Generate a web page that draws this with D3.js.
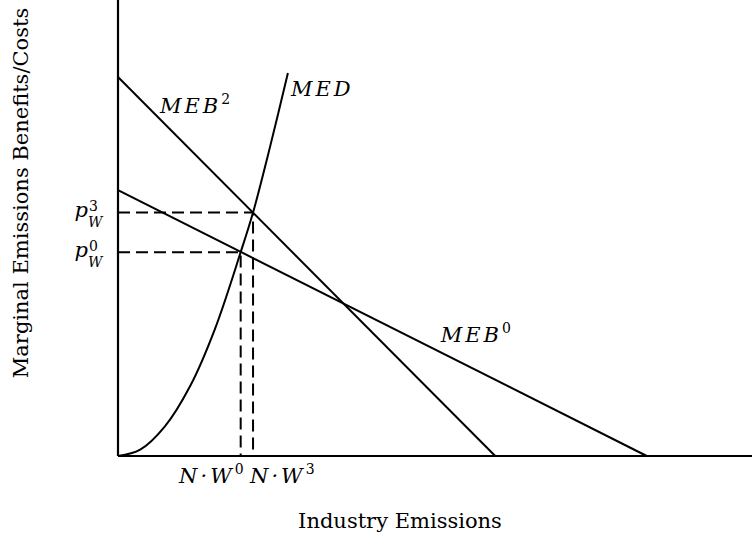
<!DOCTYPE html>
<html>
<head>
<meta charset="utf-8">
<script src="https://cdn.jsdelivr.net/npm/d3@7"></script>
<style>
  body { margin: 0; background: #fff; }
  svg text { font-family: "DejaVu Serif", serif; fill: #000; }
  .math { font-style: italic; }
</style>
</head>
<body>
<svg id="chart"></svg>
<script>
// demand / benefit lines (x = emissions, y = marginal value)
const meb2 = [[0, 8.31], [5.95, 0]]
const meb0 = [[0, 5.83], [8.34, 0]]
// marginal damage curve
const med = [
  [0, 0], [0.35, 0.14], [0.74, 0.65], [1.14, 1.54], [1.53, 2.79],
  [1.935, 4.47], [2.13, 5.34], [2.40, 6.79], [2.68, 8.40]
]
// equilibrium points (W, p)
const eq0 = [1.935, 4.47]
const eq3 = [2.13, 5.34]

const xLabel = 'Industry Emissions'
const yLabel = 'Marginal Emissions Benefits/Costs'

class EmissionsChart {

    constructor(_config) {
        this.config = {
            parentElement: _config.parentElement,
            containerWidth: _config.containerWidth || 752,
            containerHeight: _config.containerHeight || 541,
            margin: _config.margin || {top: 0, right: 0, bottom: 85, left: 118},
        }
        this.initVis()
    }

    initVis() {
        let vis = this

        vis.width = vis.config.containerWidth - vis.config.margin.left - vis.config.margin.right
        vis.height = vis.config.containerHeight - vis.config.margin.top - vis.config.margin.bottom

        vis.xScale = d3.scaleLinear().domain([0, 10]).range([0, vis.width])
        vis.yScale = d3.scaleLinear().domain([0, 10]).range([vis.height, 0])

        vis.svg = d3.select(vis.config.parentElement)
            .attr('width', vis.config.containerWidth)
            .attr('height', vis.config.containerHeight)

        vis.chart = vis.svg.append('g')
            .attr('transform', `translate(${vis.config.margin.left},${vis.config.margin.top})`)

        vis.renderVis()
    }

    renderVis() {
        let vis = this
        const x = vis.xScale, y = vis.yScale

        const line = d3.line().x(d => x(d[0])).y(d => y(d[1]))
        const curve = d3.line().x(d => x(d[0])).y(d => y(d[1])).curve(d3.curveCatmullRom)

        // dashed guides
        ;[eq0, eq3].forEach(e => {
            vis.chart.append('path')
                .attr('d', line([[0, e[1]], e, [e[0], 0]]))
                .attr('fill', 'none')
                .attr('stroke', '#000')
                .attr('stroke-width', 2)
                .attr('stroke-dasharray', '12,6')
        })

        vis.chart.selectAll('.curve')
            .data([meb2, meb0])
            .join('path')
            .attr('class', 'curve')
            .attr('d', line)
            .attr('fill', 'none')
            .attr('stroke', '#000')
            .attr('stroke-width', 2)

        vis.chart.append('path')
            .attr('d', curve(med))
            .attr('fill', 'none')
            .attr('stroke', '#000')
            .attr('stroke-width', 2)

        // axes (plain lines, no ticks)
        vis.chart.append('line')
            .attr('x1', x(0)).attr('x2', x(10))
            .attr('y1', y(0)).attr('y2', y(0))
            .attr('stroke', '#000').attr('stroke-width', 2.2)
        vis.chart.append('line')
            .attr('x1', x(0)).attr('x2', x(0))
            .attr('y1', y(0)).attr('y2', y(10))
            .attr('stroke', '#000').attr('stroke-width', 2.2)

        // curve labels (math italic is spaced out like TeX)
        const mathLabel = (px, py, base, sup, anchor) => {
            const t = vis.chart.append('text')
                .attr('x', px).attr('y', py)
                .attr('font-size', 21)
                .attr('text-anchor', anchor || 'start')
            t.append('tspan').attr('class', 'math').attr('letter-spacing', 3).text(base)
            if (sup) t.append('tspan').attr('font-size', 14).attr('dy', -9).text(sup)
            return t
        }
        mathLabel(x(meb2[0][0]) + 42, y(meb2[0][1]) + 36, 'MEB', '2')
        mathLabel(x(med[med.length - 1][0]) + 3, y(med[med.length - 1][1]) + 23, 'MED')
        mathLabel(x(meb0[1][0]) - 206, y(0) - 114, 'MEB', '0')

        // price labels
        ;[[eq3, '3'], [eq0, '0']].forEach(([e, s]) => {
            const py = y(e[1])
            vis.chart.append('text').attr('class', 'math')
                .attr('x', x(0) - 30).attr('y', py + 4.5)
                .attr('font-size', 21).attr('text-anchor', 'end').text('p')
            vis.chart.append('text')
                .attr('x', x(0) - 29).attr('y', py - 1.5)
                .attr('font-size', 14).text(s)
            vis.chart.append('text').attr('class', 'math')
                .attr('x', x(0) - 30).attr('y', py + 14.5)
                .attr('font-size', 14).text('W')
        })

        // emission labels
        mathLabel(x(eq0[0]) + 3, y(0) + 27, 'N·W', '0', 'end')
        mathLabel(x(eq3[0]) - 3, y(0) + 27, 'N·W', '3', 'start')

        // axis titles
        vis.svg.append('text')
            .attr('x', 400).attr('y', 528)
            .attr('font-size', 21).attr('text-anchor', 'middle')
            .text(xLabel)
        vis.svg.append('text')
            .attr('transform', 'translate(28,193) rotate(-90)')
            .attr('font-size', 21).attr('text-anchor', 'middle')
            .text(yLabel)
    }
}

new EmissionsChart({ parentElement: '#chart' })
</script>
</body>
</html>
